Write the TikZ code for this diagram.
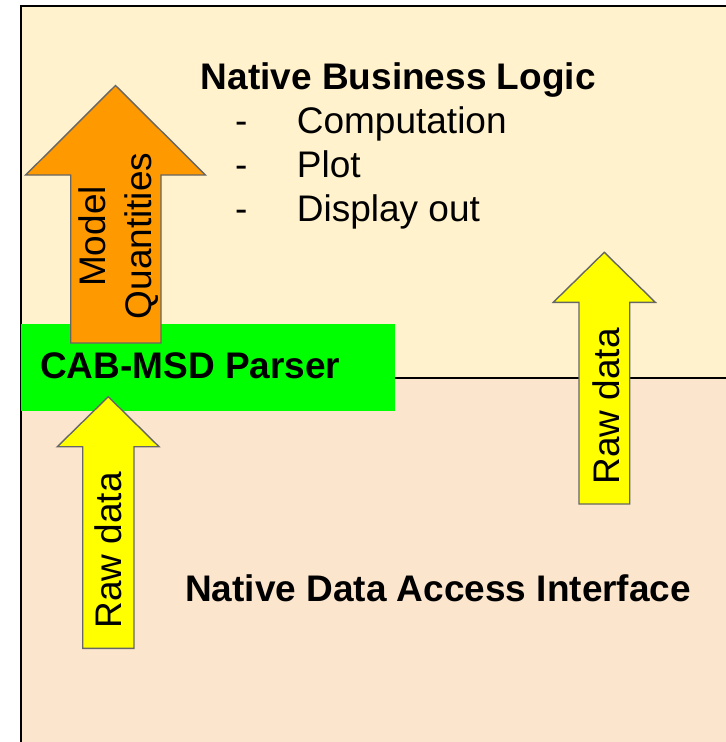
\documentclass[tikz,border=0pt]{standalone}
\usepackage{fontspec}
\setmainfont{Liberation Sans}
\definecolor{topbg}{HTML}{FFF2CC}
\definecolor{botbg}{HTML}{FCE5CD}
\definecolor{parsergreen}{HTML}{00FF00}
\definecolor{qorange}{HTML}{FF9900}
\definecolor{rawyellow}{HTML}{FFFF00}
\definecolor{arrowedge}{HTML}{666666}
\tikzset{
  bigtext/.style={inner sep=0pt, font=\fontsize{37bp}{44bp}\selectfont},
  boldtext/.style={bigtext, font=\fontsize{37bp}{44bp}\selectfont\bfseries},
  fatarrow/.style={draw=arrowedge, line width=1.4bp, line join=miter},
}
\begin{document}
\begin{tikzpicture}[x=1bp,y=-1bp]
\useasboundingbox (0,0) rectangle (726,742);
% layers
\fill[white] (0,0) rectangle (726,742);
\path[fill=topbg, draw=black, line width=2bp] (21,6.5) -- (730,6.5) -- (730,378) -- (21,378) -- cycle;
\path[fill=botbg, draw=black, line width=2bp] (21,378) -- (730,378) -- (730,750) -- (21,750) -- cycle;
% parser box
\node[fill=parsergreen, minimum width=374bp, minimum height=86.5bp, inner sep=0pt, anchor=north west] (parser) at (21,324) {};
\node[boldtext, anchor=base west] (parserlabel) at (40,378) {CAB-MSD Parser};
% orange arrow
\path[fatarrow, fill=qorange] (115.5,85.5) -- (205.5,175) -- (161,175) -- (161,343) -- (70.7,343) -- (70.7,175) -- (25.7,175) -- cycle;
\node[bigtext, rotate=90, anchor=base] (model) at (105,236.5) {Model};
\node[bigtext, rotate=90, anchor=base] (quant) at (151.7,236) {Quantities};
% left yellow arrow
\path[fatarrow, fill=rawyellow] (108.3,396.7) -- (159,446.7) -- (134,446.7) -- (134,648.3) -- (82.7,648.3) -- (82.7,446.7) -- (57.3,446.7) -- cycle;
\node[bigtext, rotate=90, anchor=base] (rawleft) at (121.7,550.5) {Raw data};
% right yellow arrow
\path[fatarrow, fill=rawyellow] (604.3,252.3) -- (655.3,302.3) -- (629.7,302.3) -- (629.7,504) -- (579,504) -- (579,302.3) -- (553.3,302.3) -- cycle;
\node[bigtext, rotate=90, anchor=base] (rawright) at (619,406.3) {Raw data};
% titles
\node[boldtext, anchor=base west] (bizlogic) at (200.7,89.3) {Native Business Logic};
\node[bigtext, anchor=base west] (item1) at (235,133.3) {\makebox[61.7bp][l]{-}Computation};
\node[bigtext, anchor=base west] (item2) at (235,177.3) {\makebox[61.7bp][l]{-}Plot};
\node[bigtext, anchor=base west] (item3) at (235,221.3) {\makebox[61.7bp][l]{-}Display out};
\node[boldtext, anchor=base west] (dataaccess) at (185,601.7) {Native Data Access Interface};
\end{tikzpicture}
\end{document}
